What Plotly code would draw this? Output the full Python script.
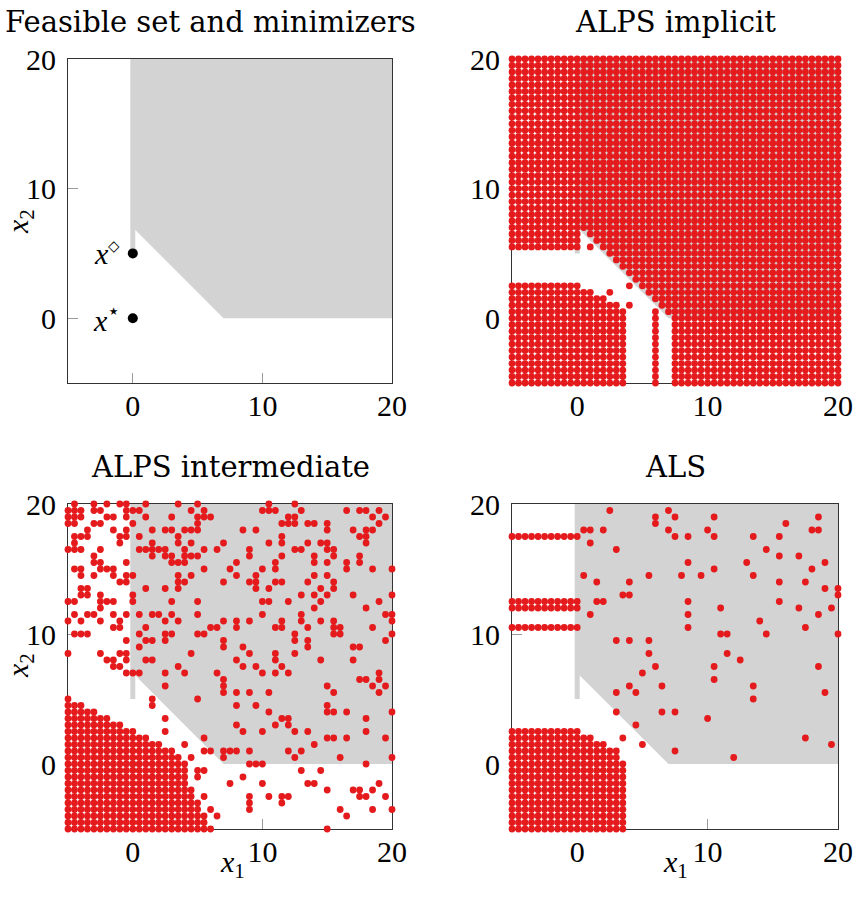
import plotly.graph_objects as go

STEP = 0.5
RED = "#e41a1c"
GRAY = "#d3d3d3"
SERIF = "Liberation Serif"
TITLE_FONT = "DejaVu Serif"

# ---------------- data ----------------
panel_titles = ["Feasible set and minimizers", "ALPS implicit", "ALPS intermediate", "ALS"]
tick_values = [0, 10, 20]
tick_labels = ["0", "10", "20"]

# feasible set (polygon) and the thin segment x1 = 0, x2 >= 5
feasible_x = [0, 0, 7, 20, 20]
feasible_y = [20, 7, 0, 0, 20]
segment_x = [0, 0]
segment_y = [5, 20]

# minimizers
minimizer_x = [0, 0]
minimizer_y = [5, 0]
minimizer_labels = ["<i>x</i><sup><span style='font-size:15px'>◇</span></sup>",
                    "<i>x</i><sup>⋆</sup>"]

# ALPS implicit: filled blocks of grid points (x_from, x_to, y_from, y_to)
implicit_blocks = [
    (-5, 20, 7, 20),
    (-5, 0, 5.5, 6.5),
    (1, 20, 6.5, 6.5), (1.5, 20, 6, 6), (2, 20, 5.5, 5.5), (2.5, 20, 5, 5),
    (3, 20, 4.5, 4.5), (3.5, 20, 4, 4), (4, 20, 3.5, 3.5), (4.5, 20, 3, 3),
    (5, 20, 2.5, 2.5), (5.5, 20, 2, 2), (6, 20, 1.5, 1.5), (6.5, 20, 1, 1),
    (7, 20, 0.5, 0.5),
    (-5, 0, 2.5, 2.5), (-5, 1, 2, 2), (-5, 2, 1.5, 1.5), (-5, 3, 1, 1),
    (-5, 3.5, -5, 0.5),
    (6, 6, -5, 0.5),
    (7.5, 20, -5, 0),
]
implicit_single_x = [1, 2.5, 4, 4]
implicit_single_y = [5.5, 2, 2.5, 1]

# ALPS intermediate: lower-left block (row y, last x of row starting at x=-5)
intermediate_block_y = [5, 4.5, 4, 3.5, 3, 2.5, 2, 1.5, 1, 0.5, 0, -0.5, -1, -1.5, -2,
                        -2.5, -3, -3.5, -4, -4.5, -5]
intermediate_block_xmax = [-5, -4, -3, -2, -1, 0, 1, 2, 3, 3.5, 3.5, 4, 4, 4, 4.5,
                           4.5, 5, 5, 5.5, 5.5, 6]
# ALPS intermediate: scattered points by row (y, [x ...])
intermediate_rows = [
    (20, [-4.5, -3, -2, -1, -0.5, 1, 3.5, 5, 10.5, 12.5]),
    (19.5, [-5, -4.5, -4, -3, -2.5, -0.5, 0, 0.5, 4.5, 5.5, 10, 10.5, 11, 13, 16.5, 17.5, 18, 19]),
    (19, [-5, -4.5, -4, -2, -1.5, -0.5, 1, 3, 5, 5.5, 6, 12, 12.5, 18.5, 19.5]),
    (18.5, [-5, -4.5, -3, -2.5, 0, 5, 11.5, 12, 12.5, 13.5, 14, 15, 19]),
    (18, [-3.5, -1.5, -0.5, 1.5, 2.5, 3, 4, 4.5, 5, 8.5, 9.5, 15, 17, 18, 18.5]),
    (17.5, [-4.5, -4, -3.5, -1, -0.5, 0.5, 3.5, 11.5, 17.5, 18]),
    (17, [-4.5, -1, 1.5, 3.5, 4.5, 7, 10.5, 11.5, 13.5, 14.5, 15, 18]),
    (16.5, [-5, -4.5, -4, -2.5, 0.5, 1, 1.5, 2, 2.5, 4, 5.5, 6.5, 9, 12.5, 13, 15, 15.5]),
    (16, [-3, 1.5, 2.5, 3, 4, 4.5, 5, 9, 11.5, 14, 15.5, 17.5]),
    (15.5, [-3, -2.5, -0.5, 3, 3.5, 4, 8, 11, 14, 15, 16.5, 17.5]),
    (15, [-4.5, -4, -2.5, -2, -1.5, 5.5, 7.5, 10, 11, 16.5, 18.5, 20]),
    (14.5, [-4, -3, -1.5, -0.5, 0, 3.5, 4.5, 8, 9.5, 14, 15]),
    (14, [-1, -0.5, 3.5, 4, 7, 9, 9.5, 11, 11.5, 13.5, 15.5]),
    (13.5, [-4, -3.5, 1, 2.5, 3.5, 9.5, 10.5, 14.5, 15.5]),
    (13, [-4, -3.5, -2.5, 0, 13, 14, 15, 17, 20]),
    (12.5, [-5, -4.5, -2.5, -2, -1.5, 0, 3, 5, 10, 10.5, 12, 14.5, 19]),
    (12, [-2.5, 14, 18]),
    (11.5, [-4.5, -3.5, -3, -1.5, -0.5, 0.5, 1.5, 2, 3, 5, 10, 13, 19.5, 20]),
    (11, [-5, -4, -2.5, -1, 2.5, 3.5, 7, 8, 9, 11.5, 13, 14.5, 15.5, 20]),
    (10.5, [-1.5, -1, 1, 6, 6.5, 8, 11, 11.5, 13.5, 15.5, 16, 18.5]),
    (10, [-4.5, -4, -3.5, 0.5, 2.5, 3, 5, 5.5, 12.5, 15.5, 16, 20]),
    (9.5, [-0.5, 1, 1.5, 2.5, 7, 12.5, 13.5, 19.5]),
    (9, [0.5, 7, 8.5, 13.5, 17, 17.5]),
    (8.5, [-5, -2.5, -1, -0.5, 4.5, 9, 11, 12.5]),
    (8, [-2, -1.5, -0.5, 1, 1.5, 8, 11, 14.5, 17]),
    (7.5, [-1.5, -1, 3.5, 8.5, 9.5, 11.5]),
    (7, [-0.5, 0, 0.5, 2.5, 4, 6.5, 10, 11, 12, 19]),
    (6.5, [7, 17.5, 18, 19]),
    (6, [2.5, 7, 15, 18.5, 19.5]),
    (5.5, [7, 8, 9, 10.5, 15.5, 19]),
    (5, [1.5, 5]),
    (4.5, [1.5, 8, 9.5, 15]),
    (4, [10.5, 15, 15.5, 16.5, 20]),
    (3.5, [2.5, 11.5, 12, 18]),
    (3, [8, 11, 12]),
    (2.5, [2.5, 8.5, 10, 12.5, 13.5, 18]),
    (2, [5.5, 15, 15.5, 16.5, 19.5]),
    (1.5, [4, 14]),
    (1, [5.5, 6, 7, 7.5, 8, 9, 12, 13]),
    (0.5, [4.5, 7, 12.5, 16, 20]),
    (0, [4, 9, 9.5, 10, 18]),
    (-0.5, [5, 5.5, 13, 14.5]),
    (-1, [5, 8.5]),
    (-1.5, [7.5, 10, 13.5, 14, 19]),
    (-2, [15, 17, 17.5, 18.5]),
    (-2.5, [5.5, 9, 10.5, 11.5, 12, 17.5, 18, 19.5]),
    (-3, [9, 11.5]),
    (-3.5, [6, 9, 16, 18.5, 20]),
    (-4, [6.5, 16.5]),
    (-5, [15]),
]

# ALS: filled blocks (x_from, x_to, y_from, y_to)
als_blocks = [
    (-5, 0, 17.5, 17.5), (-5, 0, 12, 12.5), (-5, 0, 10.5, 10.5),
    (-5, 0, 2.5, 2.5), (-5, 1, 2, 2), (-5, 2, 1.5, 1.5), (-5, 3, 0.5, 1),
    (-5, 3.5, -5, 0),
]
# ALS: scattered points by row (y, [x ...])
als_rows = [
    (19.5, [2.5, 7]),
    (19, [6, 7.5, 10.5, 18.5]),
    (18.5, [6, 16]),
    (18, [0.5, 1, 2, 7, 10, 18, 18.5]),
    (17.5, [7.5, 8.5, 10.5, 13.5, 15.5]),
    (17, [1]),
    (16.5, [3, 14.5]),
    (16, [15.5, 17]),
    (15.5, [8.5, 13, 19]),
    (15, [10.5, 18]),
    (14.5, [0.5, 5.5, 8, 9.5, 13.5]),
    (14, [1.5, 4, 15.5, 17.5]),
    (13.5, [19, 20]),
    (13, [3.5, 4, 20]),
    (12.5, [1.5, 2, 8.5, 15.5]),
    (12, [11, 17, 19.5]),
    (11.5, [1, 8.5, 18.5]),
    (11, [14]),
    (10.5, [8.5, 17.5]),
    (10, [11, 11.5, 14.5, 20]),
    (9.5, [3, 4, 5.5]),
    (8.5, [5.5, 11.5]),
    (8, [12.5]),
    (7.5, [6, 10.5, 18.5]),
    (7, [5]),
    (6.5, [10.5]),
    (6, [4, 6.5, 13.5]),
    (5.5, [3, 4.5, 19]),
    (5, [13.5]),
    (4, [3, 6.5, 7.5]),
    (3.5, [10]),
    (3, [4.5]),
    (2, [3.5, 17.5]),
    (1.5, [5, 19.5]),
    (1, [7.5]),
    (0.5, [12]),
]


# ---------------- helpers ----------------
def idx(v):
    return int(round(v / STEP))


def add_blocks(pts, blocks):
    for x0, x1, y0, y1 in blocks:
        for i in range(idx(x0), idx(x1) + 1):
            for j in range(idx(y0), idx(y1) + 1):
                pts.add((i, j))


def add_rows(pts, rows):
    for y, xs in rows:
        for x in xs:
            pts.add((idx(x), idx(y)))


def to_xy(pts):
    s = sorted(pts)
    return [p[0] * STEP for p in s], [p[1] * STEP for p in s]


implicit_pts = set()
add_blocks(implicit_pts, implicit_blocks)
for x, y in zip(implicit_single_x, implicit_single_y):
    implicit_pts.add((idx(x), idx(y)))

intermediate_pts = set()
add_blocks(intermediate_pts, [(-5, xm, y, y) for y, xm in zip(intermediate_block_y, intermediate_block_xmax)])
add_rows(intermediate_pts, intermediate_rows)

als_pts = set()
add_blocks(als_pts, als_blocks)
add_rows(als_pts, als_rows)

# ---------------- figure ----------------
W, H = 857, 901
x_dom = [[68 / W, 392 / W], [512 / W, 838 / W]]
y_dom = [[1 - 383 / H, 1 - 59 / H], [1 - 829 / H, 1 - 504 / H]]
panels = [(0, 0), (1, 0), (0, 1), (1, 1)]  # (col, row)

fig = go.Figure()


def add_feasible(n):
    xa, ya = ("x", "y") if n == 1 else (f"x{n}", f"y{n}")
    fig.add_trace(go.Scatter(x=feasible_x, y=feasible_y, fill="toself", fillcolor=GRAY,
                             mode="lines", line=dict(width=0, color=GRAY),
                             hoverinfo="skip", showlegend=False, xaxis=xa, yaxis=ya))
    fig.add_trace(go.Scatter(x=segment_x, y=segment_y, mode="lines",
                             line=dict(width=5, color=GRAY),
                             hoverinfo="skip", showlegend=False, xaxis=xa, yaxis=ya))
    return xa, ya


# panel 1
xa, ya = add_feasible(1)
fig.add_trace(go.Scatter(x=minimizer_x, y=minimizer_y, mode="markers",
                         marker=dict(size=10, color="black"), cliponaxis=False,
                         showlegend=False, xaxis=xa, yaxis=ya))

for n, pts in [(2, implicit_pts), (3, intermediate_pts), (4, als_pts)]:
    xa, ya = add_feasible(n)
    fig.add_trace(go.Scatter(x=[minimizer_x[1]], y=[minimizer_y[1]], mode="markers",
                             marker=dict(size=12, color="#c8c8c8", symbol="cross"),
                             showlegend=False, xaxis=xa, yaxis=ya))
    px, py = to_xy(pts)
    fig.add_trace(go.Scatter(x=px, y=py, mode="markers", cliponaxis=False,
                             marker=dict(size=6.8, color=RED, line=dict(width=0)),
                             showlegend=False, xaxis=xa, yaxis=ya))

axis_common = dict(range=[-5, 20], tickvals=tick_values, ticktext=tick_labels,
                   ticks="inside", ticklen=10, tickwidth=1, tickcolor="#9a9a9a",
                   showline=True, linecolor="#333333", linewidth=1.2, mirror=True,
                   showgrid=False, zeroline=False, layer="below traces", automargin=False,
                   tickfont=dict(family=SERIF, size=30, color="black"), fixedrange=True)

layout = dict(width=W, height=H, margin=dict(l=0, r=0, t=0, b=0, pad=0),
              paper_bgcolor="white", plot_bgcolor="white", showlegend=False)
for k, (c, r) in enumerate(panels, start=1):
    sfx = "" if k == 1 else str(k)
    layout["xaxis" + sfx] = dict(axis_common, domain=x_dom[c], anchor="y" + sfx,
                                 ticklabelstandoff=-4)
    layout["yaxis" + sfx] = dict(axis_common, domain=y_dom[r], anchor="x" + sfx,
                                 ticklabelstandoff=5)
fig.update_layout(**layout)

annotations = []
title_pos = [(210, 22), (675, 22), (231, 467), (675, 467)]
for t, (px_, py_) in zip(panel_titles, title_pos):
    annotations.append(dict(text=t, x=px_ / W, y=1 - py_ / H, xref="paper", yref="paper",
                            xanchor="center", yanchor="middle", showarrow=False,
                            font=dict(family=TITLE_FONT, size=29, color="black")))
# minimizer labels
for lab, yv in zip(minimizer_labels, minimizer_y):
    annotations.append(dict(text=lab, x=-0.8, y=yv, xref="x", yref="y", xanchor="right",
                            yanchor="middle", showarrow=False,
                            font=dict(family=SERIF, size=30, color="black")))
# axis labels
for py_ in [222, 666]:
    annotations.append(dict(text="<i>x</i><sub>2</sub>", x=20 / W, y=1 - py_ / H, xref="paper",
                            yref="paper", xanchor="center", yanchor="middle", textangle=-90,
                            showarrow=False, font=dict(family=SERIF, size=30, color="black")))
for px_ in [232, 675]:
    annotations.append(dict(text="<i>x</i><sub>1</sub>", x=px_ / W, y=1 - 864 / H, xref="paper",
                            yref="paper", xanchor="center", yanchor="middle", showarrow=False,
                            font=dict(family=SERIF, size=30, color="black")))
fig.update_layout(annotations=annotations)

fig.write_html("out.html", config={"displayModeBar": False},
               post_script="document.body.style.margin='0';document.body.style.overflow='hidden';")
